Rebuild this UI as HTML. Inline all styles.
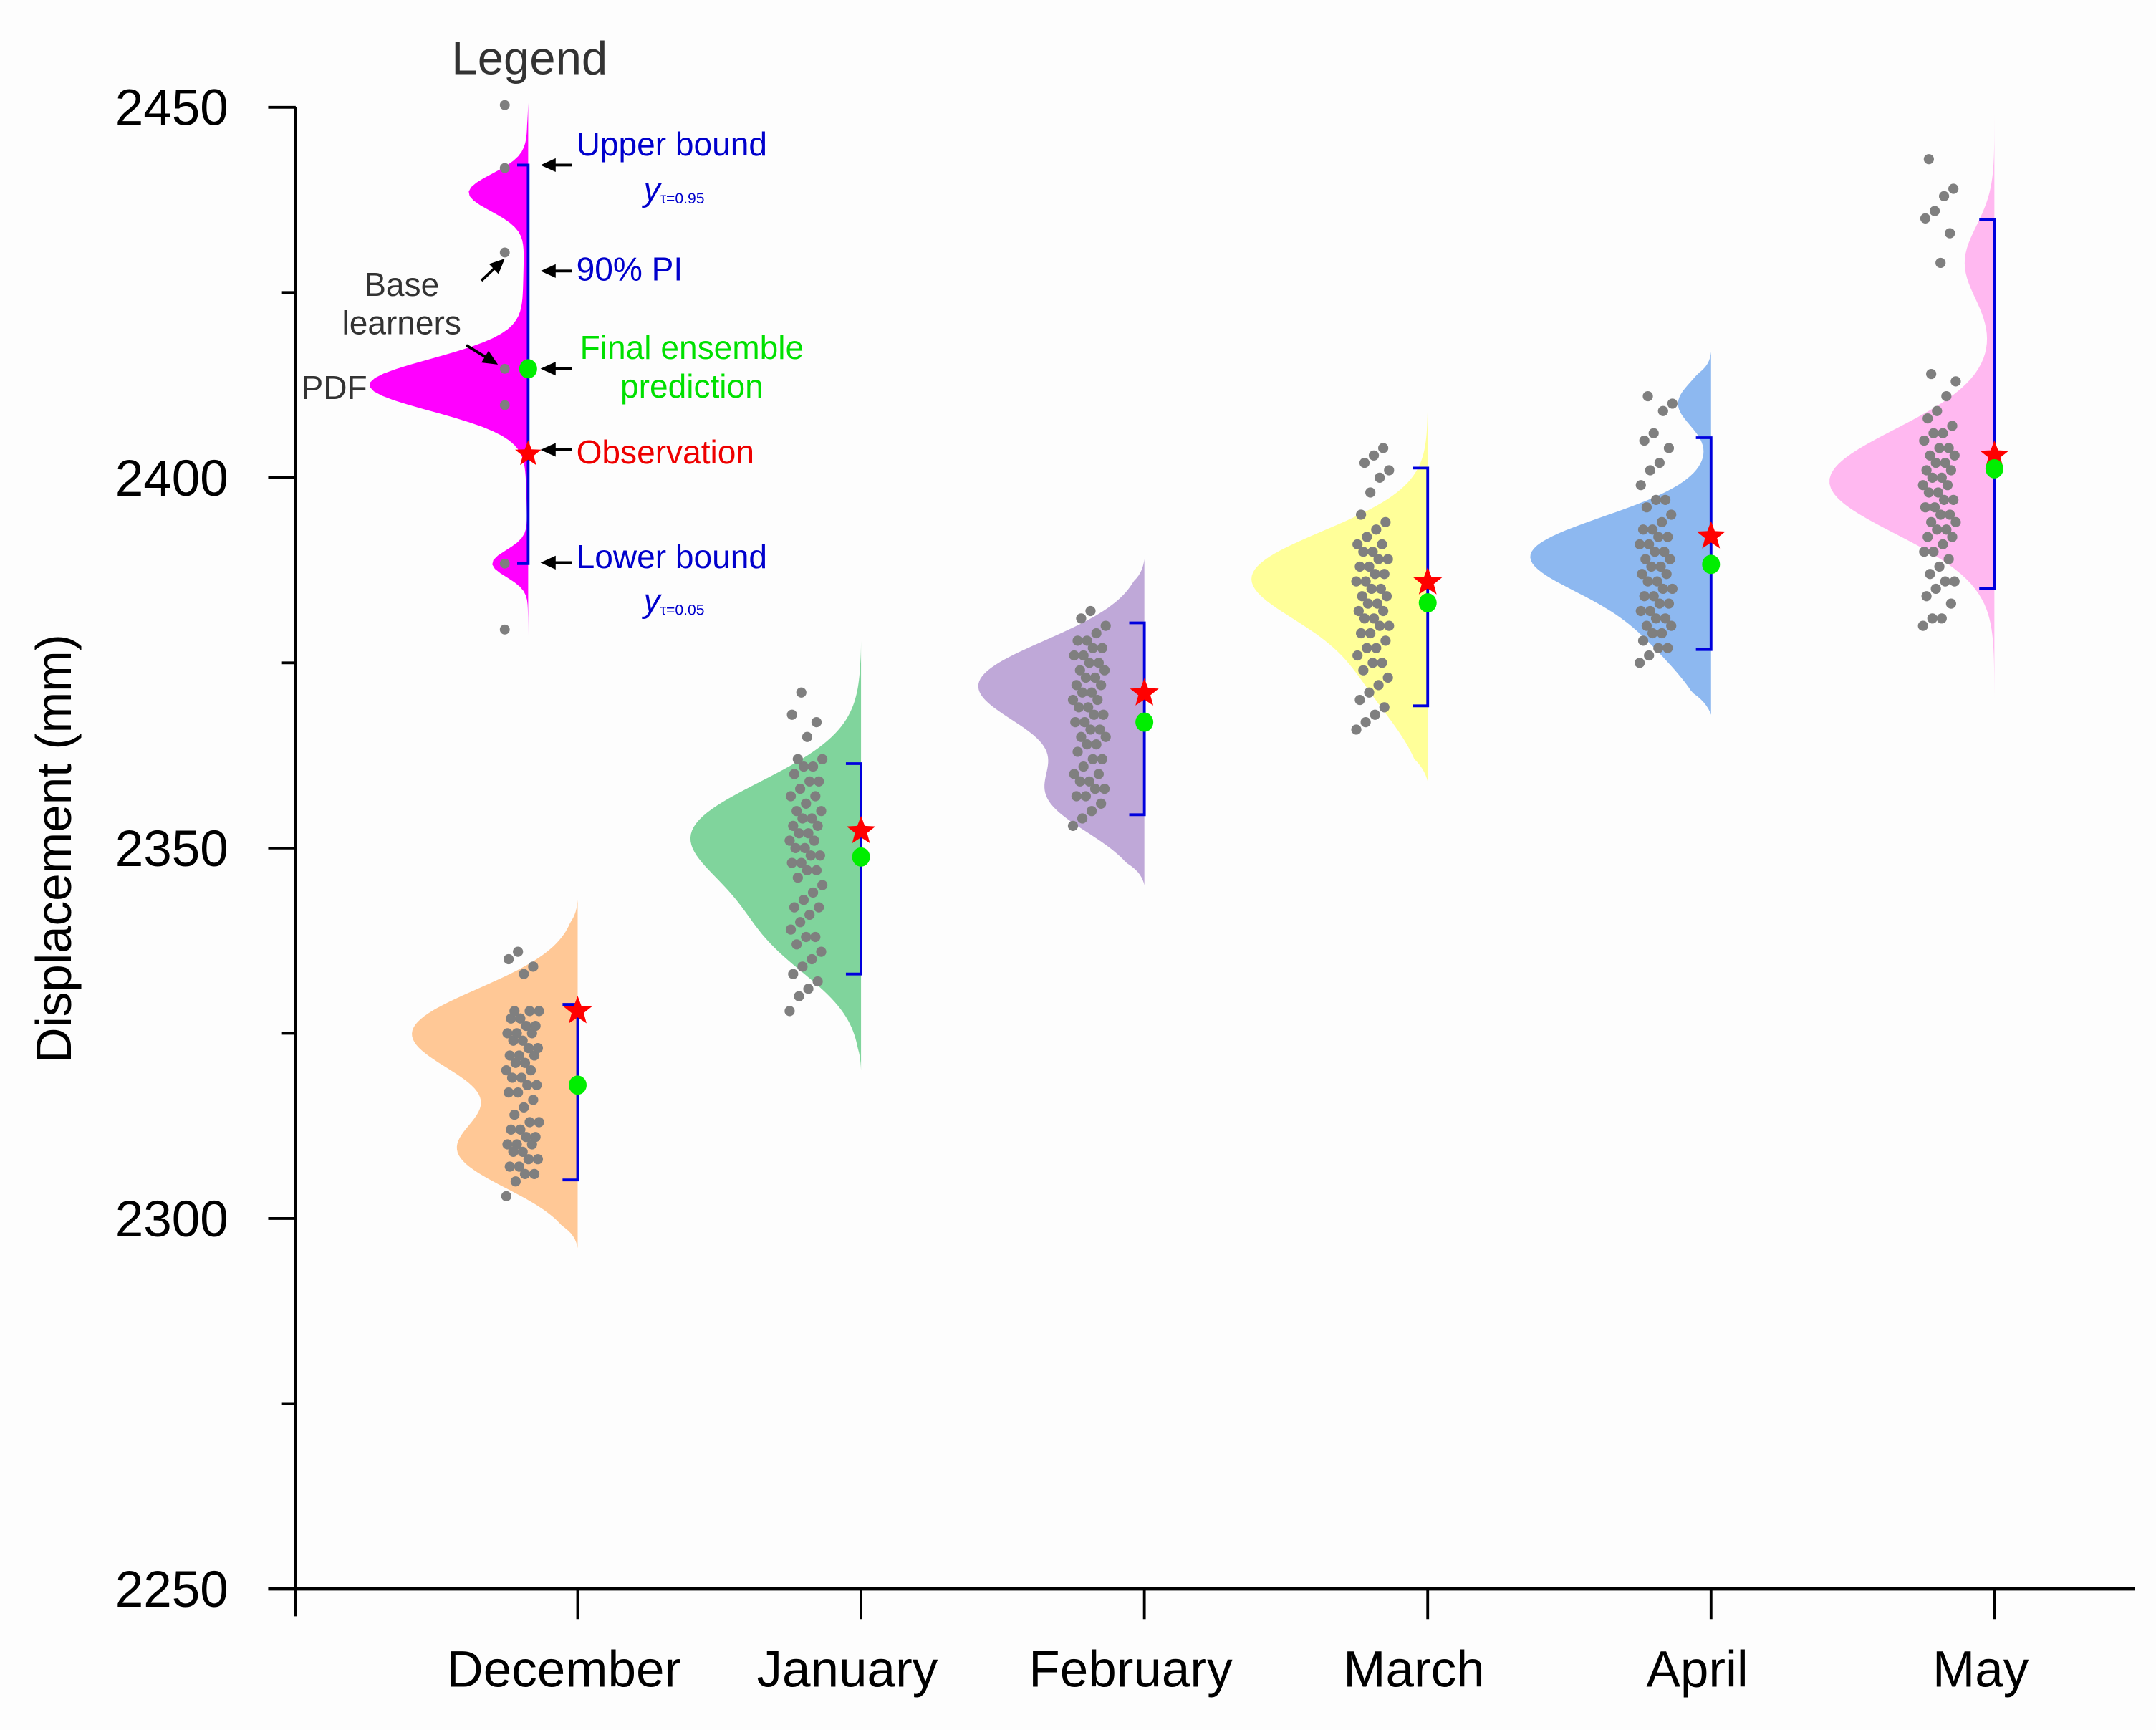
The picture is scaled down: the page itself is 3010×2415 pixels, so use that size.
<!DOCTYPE html>
<html><head><meta charset="utf-8"><style>
html,body{margin:0;padding:0;background:#fdfdfd;}
svg{display:block;font-family:"Liberation Sans",Arial,sans-serif;}
</style></head><body>
<svg id="chart" width="3010" height="2415" viewBox="0 0 1567.5 1257.6" preserveAspectRatio="none" xmlns="http://www.w3.org/2000/svg">
<rect x="0" y="0" width="1570" height="1260" fill="#fdfdfd"/>
<g id="violins"></g>
<g id="points"></g>
<g id="marks"></g>
<g id="axes"></g>
<g id="legend">
  <text x="385" y="54" font-size="34" fill="#333" text-anchor="middle">Legend</text>
  <text x="419" y="113" font-size="24" fill="#0000cc">Upper bound</text>
  <text x="468" y="146" font-size="24" fill="#0000cc" font-style="italic">y<tspan font-size="11" font-style="normal" dy="2">τ=0.95</tspan></text>
  <text x="419" y="204" font-size="24" fill="#0000cc">90% PI</text>
  <text x="292" y="215" font-size="24" fill="#333" text-anchor="middle">Base</text>
  <text x="292" y="243" font-size="24" fill="#333" text-anchor="middle">learners</text>
  <text x="219" y="290" font-size="24" fill="#333">PDF</text>
  <text x="503" y="261" font-size="24" fill="#00e000" text-anchor="middle">Final ensemble</text>
  <text x="503" y="289" font-size="24" fill="#00e000" text-anchor="middle">prediction</text>
  <text x="419" y="337" font-size="24" fill="#ee0000">Observation</text>
  <text x="419" y="413" font-size="24" fill="#0000cc">Lower bound</text>
  <text x="468" y="445" font-size="24" fill="#0000cc" font-style="italic">y<tspan font-size="11" font-style="normal" dy="2">τ=0.05</tspan></text>
</g>
<text x="42" y="617" font-size="36" fill="#000" text-anchor="middle" transform="rotate(-90 42 617)" dominant-baseline="middle">Displacement (mm)</text>
</svg>
<script>
const months = ["December","January","February","March","April","May"];
const colors = ["#ffc896","#80d49c","#bfa8d8","#ffff99","#8db8f0","#ffb8f0"];
const pred = [2318.0,2348.8,2367.0,2383.1,2388.3,2401.2];
const obs = [2328.0,2352.3,2370.9,2385.9,2392.1,2403.0];
const lower = [2305.2,2333.0,2354.5,2369.2,2376.8,2385.0];
const upper = [2328.9,2361.4,2380.4,2401.3,2405.4,2434.8];
const rangeLo = [2296,2320,2345,2359,2368,2369.4];
const rangeHi = [2343,2378,2389,2411,2417,2450.6];
const kdeMu = [[2325,2309],[2352,2338],[2372,2357],[2387,2374],[2390,2380,2410],[2399.5,2429]];
const kdeSd = [[6,5],[7,6],[6,5],[6,7],[5,6,3],[7,5]];
const kdeAmp = [[1.0,0.7],[1.0,0.45],[1.0,0.55],[1.0,0.35],[1.0,0.35,0.2],[1.0,0.18]];
const pts = [
[2303,2305,2306,2306,2307,2307,2308,2308,2309,2309,2310,2310,2310,2311,2311,2312,2312,2313,2313,2314,2315,2316,2317,2317,2318,2318,2319,2319,2320,2320,2321,2321,2322,2322,2322,2323,2323,2324,2324,2325,2325,2325,2326,2326,2327,2327,2328,2328,2328,2333,2334,2335,2336],
[2328,2330,2331,2332,2333,2334,2335,2336,2337,2338,2338,2339,2340,2341,2342,2342,2343,2344,2345,2346,2347,2347,2348,2348,2349,2349,2350,2350,2351,2351,2352,2352,2353,2353,2354,2354,2355,2355,2356,2357,2357,2358,2359,2359,2360,2361,2361,2362,2362,2365,2367,2368,2371],
[2353,2354,2355,2356,2357,2357,2358,2358,2359,2359,2360,2360,2361,2362,2362,2363,2364,2364,2365,2365,2366,2366,2367,2367,2368,2368,2369,2369,2370,2370,2371,2371,2372,2372,2373,2373,2374,2374,2375,2375,2376,2376,2377,2377,2378,2378,2379,2380,2381,2382],
[2366,2367,2368,2369,2370,2371,2372,2373,2374,2375,2375,2376,2377,2377,2378,2379,2379,2380,2380,2381,2381,2382,2382,2383,2383,2384,2384,2385,2385,2386,2386,2387,2387,2388,2388,2389,2389,2390,2390,2391,2391,2392,2393,2394,2395,2398,2400,2401,2402,2403,2404],
[2375,2376,2377,2377,2378,2379,2379,2380,2380,2381,2381,2382,2382,2383,2383,2384,2384,2385,2385,2386,2386,2387,2387,2388,2388,2389,2389,2390,2390,2391,2391,2392,2392,2393,2393,2394,2395,2396,2397,2397,2399,2401,2402,2404,2405,2406,2409,2410,2411],
[2380,2381,2381,2383,2384,2385,2386,2386,2387,2388,2389,2390,2390,2391,2392,2392,2393,2393,2394,2394,2395,2395,2396,2396,2397,2397,2398,2398,2399,2399,2400,2400,2401,2401,2402,2402,2403,2403,2404,2404,2405,2406,2406,2407,2408,2409,2411,2413,2414,2429,2433,2435,2436,2438,2439,2443]
];
const yTicks = [2250,2300,2350,2400,2450];
const yMinor = [2275,2325,2375,2425];
const legendMu = [2438.5,2412.5,2388.4,2420];
const legendSd = [2.5,3.5,1.8,15];
const legendAmp = [0.37,1.0,0.23,0.035];
const legendPts = [2450.3,2441.8,2430.4,2414.7,2409.8,2388.4,2379.5];
const legendPred = 2414.7, legendObs = 2403.2, legendLo = 2388.4, legendHi = 2442.2;
const legendRange = [2378.7,2450.6];

const NS="http://www.w3.org/2000/svg";
const Y0=1155, PXMM=5.385, XLEFT=215, XRIGHT=1552;
function yS(v){return Y0-(v-2250)*PXMM;}
function xS(i){return 420+i*206;}
const WSCALE=120;
function mk(tag,attrs,parent){const e=document.createElementNS(NS,tag);for(const k in attrs)e.setAttribute(k,attrs[k]);parent.appendChild(e);return e;}
function dens(v,mu,sd,amp){let s=0;for(let k=0;k<mu.length;k++)s+=amp[k]*Math.exp(-((v-mu[k])**2)/(2*sd[k]*sd[k]));return s;}
function violinPath(xr,lo,hi,mu,sd,amp,scale){
  let d="M"+xr+","+yS(hi);const n=120;
  for(let j=0;j<=n;j++){const v=hi-(hi-lo)*j/n;let t=dens(v,mu,sd,amp);
    const edge=Math.min((hi-v),(v-lo));const taper=Math.min(1,edge/3);d+=" L"+(xr-t*scale*taper).toFixed(2)+","+yS(v).toFixed(2);}
  return d+" L"+xr+","+yS(lo)+" Z";}
function star(cx,cy,r,parent){let d="";for(let k=0;k<10;k++){const a=-Math.PI/2+k*Math.PI/5;const rr=k%2?r*0.42:r;d+=(k?"L":"M")+(cx+rr*Math.cos(a)).toFixed(2)+","+(cy+rr*Math.sin(a)).toFixed(2);}return mk("path",{d:d+"Z",fill:"#ff0000"},parent);}
function bracket(xr,lo,hi,parent){return mk("path",{d:"M"+(xr-11)+","+yS(hi)+" L"+xr+","+yS(hi)+" L"+xr+","+yS(lo)+" L"+(xr-11)+","+yS(lo),fill:"none",stroke:"#0000dd","stroke-width":2},parent);}

const gV=document.getElementById("violins"),gP=document.getElementById("points"),gM=document.getElementById("marks"),gA=document.getElementById("axes"),gL=document.getElementById("legend");
months.forEach((m,i)=>{
  const xr=xS(i);
  const vp=mk("path",{d:violinPath(xr,rangeLo[i],rangeHi[i],kdeMu[i],kdeSd[i],kdeAmp[i],WSCALE),fill:colors[i]},gV);
  
  
  pts[i].forEach((v,k)=>{
    const jx=((k*37)%29-14)*0.85;
    const c=mk("circle",{cx:xr-40+jx,cy:yS(v),r:3.7,fill:"#7f7f7f"},gP);
    
    
  });
  const b=bracket(xr,lower[i],upper[i],gM);
  
  
  const s=star(xr,yS(obs[i]),11,gM);
  
  
  const g=mk("ellipse",{cx:xr,cy:yS(pred[i]),rx:6.5,ry:7,fill:"#00ee00"},gM);
  
  
});
const LX=384;
const lv=mk("path",{d:violinPath(LX,legendRange[0],legendRange[1],legendMu,legendSd,legendAmp,112),fill:"#ff00ff"},gL);


legendPts.forEach(v=>{const c=mk("circle",{cx:367,cy:yS(v),r:3.6,fill:"#7f7f7f"},gL);
  
  });
const lb=mk("path",{d:"M"+(LX-8)+","+yS(legendHi)+" L"+LX+","+yS(legendHi)+" L"+LX+","+yS(legendLo)+" L"+(LX-8)+","+yS(legendLo),fill:"none",stroke:"#0000dd","stroke-width":2},gL);


const ls=star(LX,yS(legendObs),10,gL);


const lg=mk("ellipse",{cx:LX,cy:yS(legendPred),rx:6.5,ry:7,fill:"#00ee00"},gL);


function arrow(x1,y1,x2,y2){const a=Math.atan2(y2-y1,x2-x1),h=11,w=5;
  mk("line",{x1:x1,y1:y1,x2:x2-Math.cos(a)*h*0.8,y2:y2-Math.sin(a)*h*0.8,stroke:"#000","stroke-width":2},gL);
  const p=mk("path",{d:"M"+x2+","+y2+" L"+(x2-h*Math.cos(a)+w*Math.sin(a))+","+(y2-h*Math.sin(a)-w*Math.cos(a))+" L"+(x2-h*Math.cos(a)-w*Math.sin(a))+","+(y2-h*Math.sin(a)+w*Math.cos(a))+"Z",fill:"#000"},gL);
  
  }
arrow(416,120,393,120);arrow(416,197,393,197);arrow(416,268,393,268);arrow(416,327,393,327);arrow(416,409,393,409);
arrow(350,204,367,188);arrow(339,251,362,265);
const ya=mk("line",{x1:XLEFT,y1:yS(2450),x2:XLEFT,y2:1175,stroke:"#000","stroke-width":2},gA);


const xa=mk("line",{x1:XLEFT-20,y1:Y0,x2:XRIGHT,y2:Y0,stroke:"#000","stroke-width":2.5},gA);


yTicks.forEach(v=>{mk("line",{x1:XLEFT-20,y1:yS(v),x2:XLEFT,y2:yS(v),stroke:"#000","stroke-width":2},gA);
  const t=mk("text",{x:166,y:yS(v)+13,"font-size":37,"text-anchor":"end",fill:"#000"},gA);t.textContent=v;
  
  });
yMinor.forEach(v=>{mk("line",{x1:XLEFT-10,y1:yS(v),x2:XLEFT,y2:yS(v),stroke:"#000","stroke-width":2},gA);});
months.forEach((m,i)=>{mk("line",{x1:xS(i),y1:Y0,x2:xS(i),y2:1177,stroke:"#000","stroke-width":2},gA);
  const t=mk("text",{x:xS(i)-10,y:1226,"font-size":37,"text-anchor":"middle",fill:"#000"},gA);t.textContent=m;
  
  });
</script>
</body></html>
